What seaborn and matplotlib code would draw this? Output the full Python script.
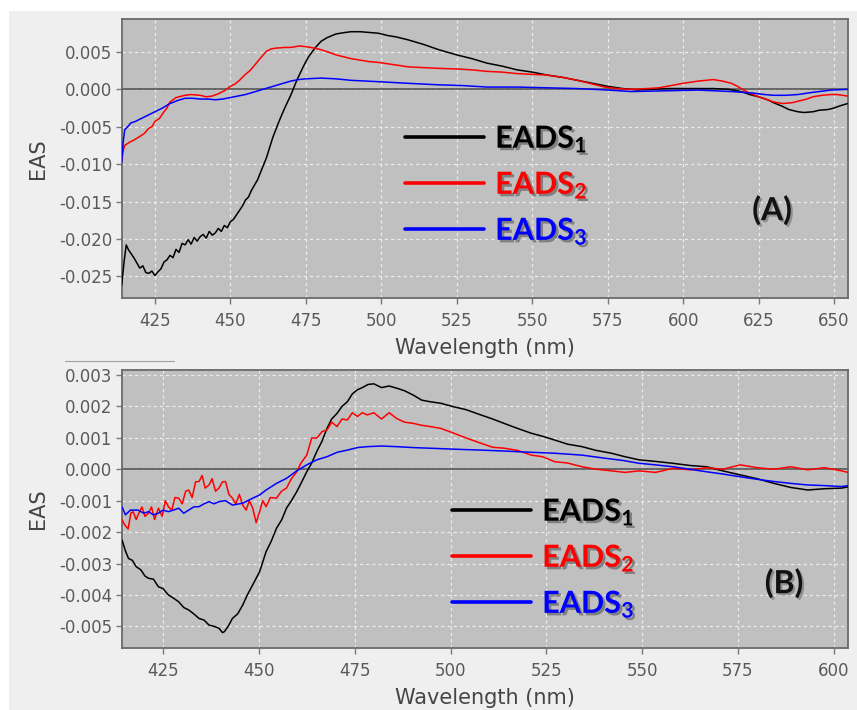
import matplotlib
matplotlib.use("Agg")
import numpy as np
import pandas as pd
import matplotlib.pyplot as plt
import seaborn as sns
from matplotlib.lines import Line2D
from matplotlib.patches import Rectangle
import matplotlib.patheffects as pe
from matplotlib.ticker import FormatStrFormatter, FixedLocator

# ---------------- data ----------------
series_names = ["EADS1", "EADS2", "EADS3"]
series_labels = [r"$EADS_1$", r"$EADS_2$", r"$EADS_3$"]
series_colors = ["#000000", "#ff0000", "#0000ff"]
text_colors = ["#000000", "#ff0000", "#0000ff"]

# Panel A
a1_wl = [414, 414.8, 415.5, 416.3, 417, 418, 419, 420, 421, 422, 423, 424, 425, 426, 427, 428, 429, 430,
         431, 432, 433, 434, 435, 436, 437, 438, 439, 440, 441, 442, 443, 444, 445, 446, 447, 448, 449, 450,
         451, 452, 454, 455, 456, 457, 458, 459, 460, 461, 462, 463, 464, 466, 468, 470, 472, 474, 475, 476,
         478, 480, 482, 485, 488, 490, 493, 496, 499, 502, 505, 509, 514, 519, 525, 530, 535, 540, 545, 550,
         555, 560, 565, 570, 575, 580, 585, 590, 595, 600, 605, 610, 615, 618, 620, 622, 625, 628, 630, 633,
         635, 638, 640, 643, 645, 648, 650, 652, 654.5]
a1_val = [-0.0262, -0.0230, -0.0208, -0.0215, -0.0219, -0.0225, -0.0232, -0.0239, -0.0236, -0.0245, -0.0246,
          -0.0243, -0.0249, -0.0244, -0.0240, -0.0231, -0.0228, -0.0222, -0.0225, -0.0214, -0.0218, -0.0206,
          -0.0208, -0.0201, -0.0207, -0.0198, -0.0203, -0.0197, -0.0194, -0.0199, -0.0190, -0.0195, -0.0192,
          -0.0186, -0.0190, -0.0182, -0.0185, -0.0177, -0.0174, -0.0168, -0.0156, -0.0148, -0.0144, -0.0135,
          -0.0128, -0.0121, -0.0111, -0.0101, -0.0091, -0.0078, -0.0065, -0.0044, -0.0025, -0.0008, 0.0012,
          0.0029, 0.0037, 0.0044, 0.0055, 0.0064, 0.0069, 0.0074, 0.0076, 0.0077, 0.0077, 0.0076, 0.0075,
          0.0072, 0.0070, 0.0066, 0.0060, 0.0053, 0.0046, 0.0041, 0.0035, 0.0031, 0.0026, 0.0023, 0.0019,
          0.0016, 0.0012, 0.0008, 0.0004, 0.0001, -0.0001, 0.0000, 0.0001, 0.0001, 0.0001, 0.0001, 0.0000,
          -0.0002, -0.0004, -0.0007, -0.0010, -0.0014, -0.0018, -0.0023, -0.0027, -0.0030, -0.0031, -0.0030,
          -0.0028, -0.0027, -0.0025, -0.0022, -0.0019]

a2_wl = [414, 414.5, 415, 416.5, 418, 420, 421.5, 423, 424, 425, 426.5, 428, 429, 430, 431, 432, 435, 437,
         440, 442, 444, 446, 448, 450, 451.5, 453, 455, 456.5, 458, 460, 462, 463.5, 465, 468, 470, 473, 475,
         478, 480, 483, 485, 488, 490, 493, 496, 499, 504, 509, 514, 519, 526, 530, 535, 540, 545, 550, 555,
         560, 565, 570, 574, 578, 583, 588, 592, 596, 600, 605, 610, 613, 616, 618, 620, 622, 625, 628, 630,
         633, 636, 638, 641, 643, 646, 649, 651, 654.5]
a2_val = [-0.0095, -0.0082, -0.0075, -0.0071, -0.0068, -0.0063, -0.0059, -0.0052, -0.0050, -0.0043, -0.0039,
          -0.0030, -0.0025, -0.0017, -0.0014, -0.0011, -0.0008, -0.0007, -0.0008, -0.0010, -0.0009, -0.0006,
          -0.0002, 0.0004, 0.0007, 0.0012, 0.0020, 0.0025, 0.0032, 0.0042, 0.0051, 0.0054, 0.0055, 0.0056,
          0.0056, 0.0058, 0.0057, 0.0055, 0.0053, 0.0049, 0.0046, 0.0043, 0.0041, 0.0039, 0.0037, 0.0036,
          0.0033, 0.0030, 0.0029, 0.0028, 0.0027, 0.0026, 0.0024, 0.0023, 0.0021, 0.0020, 0.0019, 0.0016,
          0.0012, 0.0007, 0.0003, 0.0001, 0.0000, 0.0001, 0.0002, 0.0005, 0.0008, 0.0011, 0.0013, 0.0011,
          0.0008, 0.0004, -0.0001, -0.0005, -0.0010, -0.0014, -0.0017, -0.0019, -0.0018, -0.0016, -0.0013,
          -0.0010, -0.0008, -0.0007, -0.0007, -0.0009]

a3_wl = [414, 414.5, 415, 416, 417, 418.5, 420, 422.5, 425, 427.5, 430, 432.5, 435, 437.5, 440, 442.5, 445,
         447.5, 450, 452.5, 455, 457.5, 460, 462.5, 465, 467.5, 470, 472.5, 475, 480, 485, 490, 495, 500, 509,
         519, 527, 535, 545, 555, 565, 575, 583, 594, 605, 616, 623, 627, 630, 634, 638, 643, 649, 654.5]
a3_val = [-0.0098, -0.0070, -0.0054, -0.0050, -0.0045, -0.0043, -0.0040, -0.0035, -0.0030, -0.0025, -0.0019,
          -0.0015, -0.0012, -0.0012, -0.0013, -0.0013, -0.0014, -0.0013, -0.0011, -0.0009, -0.0007, -0.0004,
          -0.0001, 0.0002, 0.0005, 0.0008, 0.0011, 0.0013, 0.0014, 0.0015, 0.0014, 0.0012, 0.0011, 0.0010,
          0.0008, 0.0006, 0.0005, 0.0003, 0.0003, 0.0002, 0.0001, -0.0001, -0.0003, -0.0002, -0.0001, -0.0003,
          -0.0005, -0.0007, -0.0008, -0.0008, -0.0007, -0.0004, -0.0001, 0.0000]

# Panel B
b1_wl = [414.3, 415.2, 416, 417, 418, 419.2, 420.3, 421.2, 422.5, 423.8, 425, 426.4, 427.7, 429.1, 430.4,
         431.7, 433, 434.4, 435.7, 437, 438.3, 439.6, 440.5, 441, 442, 443.1, 444.5, 445.8, 447, 448.4, 450.2,
         451.9, 453.2, 454.6, 456, 457.2, 458.5, 459.9, 461.2, 462.5, 463.8, 465.1, 466.5, 467.8, 469, 470.4,
         471.7, 473.1, 474.4, 475.7, 477, 478.5, 480, 482, 484, 486, 488, 490.3, 492.5, 494.7, 497.5, 500.8,
         504, 507.9, 511, 514, 517.5, 521, 524, 527.2, 530.5, 534.3, 538, 542, 545.5, 549.2, 553.5, 558,
         562.5, 566.8, 571, 575.6, 580, 584.4, 588.8, 593.2, 597.5, 602, 603.7]
b1_val = [-0.00225, -0.0026, -0.00284, -0.0029, -0.0031, -0.0032, -0.0034, -0.00347, -0.0035, -0.00374,
          -0.0038, -0.0040, -0.0041, -0.00422, -0.0044, -0.00448, -0.0046, -0.00475, -0.0048, -0.00496,
          -0.0050, -0.00506, -0.0052, -0.00517, -0.0050, -0.00475, -0.0046, -0.00432, -0.0040, -0.00368,
          -0.00326, -0.00262, -0.0023, -0.00188, -0.0016, -0.00124, -0.0010, -0.00071, -0.0004, -0.00008,
          0.0002, 0.00056, 0.0009, 0.00131, 0.0016, 0.00178, 0.0020, 0.00215, 0.0024, 0.00253, 0.0026, 0.0027,
          0.00272, 0.0026, 0.00265, 0.00258, 0.0025, 0.00236, 0.0022, 0.00215, 0.0021, 0.00199, 0.0019,
          0.00173, 0.0016, 0.00146, 0.0013, 0.00115, 0.00105, 0.00093, 0.0008, 0.00072, 0.0006, 0.00051,
          0.0004, 0.0003, 0.00025, 0.00019, 0.00012, 0.00008, -0.00005, -0.00018, -0.0003, -0.00045, -0.00058,
          -0.00066, -0.00062, -0.0006, -0.00056]

b2_wl = [414.3, 414.9, 415.9, 416.6, 417.2, 418, 418.5, 419.5, 420.3, 421.2, 422, 422.8, 423.8, 424.8, 425.6,
         426.4, 427.3, 428.1, 429.1, 430, 430.9, 431.7, 432.6, 433.5, 434.4, 435.2, 436, 437, 437.8, 438.7,
         439.6, 440.5, 441.3, 442.2, 443.1, 444, 444.9, 445.8, 446.7, 447.5, 448.4, 449.3, 450.2, 451, 451.9,
         453, 454.6, 455.9, 457.2, 458.5, 459.9, 461, 462.5, 463.8, 465.1, 466.5, 467.8, 469, 470.4, 471.7,
         473.1, 474.4, 475.7, 477, 478.3, 480, 482, 484, 485.9, 488, 490.3, 492.5, 494.7, 497.5, 500.8, 504,
         507.9, 511, 514, 517.5, 521.1, 524, 527.2, 530.5, 534.3, 538, 542, 545.5, 549.2, 553.5, 558, 562.5,
         566.8, 571, 575.6, 580, 584.4, 588.8, 593.2, 597.5, 602, 603.7]
b2_val = [-0.0016, -0.00175, -0.0019, -0.0014, -0.00135, -0.0016, -0.00145, -0.0012, -0.0015, -0.0014,
          -0.0012, -0.0016, -0.00124, -0.0015, -0.0010, -0.00119, -0.0013, -0.0009, -0.00092, -0.0011, -0.0007,
          -0.00066, -0.0009, -0.0004, -0.00039, -0.0002, -0.0006, -0.0005, -0.0003, -0.0007, -0.0006, -0.0004,
          -0.00039, -0.0008, -0.00092, -0.0011, -0.0008, -0.00114, -0.0013, -0.0010, -0.00124, -0.0017,
          -0.00135, -0.0010, -0.00119, -0.0009, -0.00092, -0.0007, -0.0006, -0.0003, -0.00008, 0.0002, 0.00045,
          0.0010, 0.00099, 0.0012, 0.00125, 0.0015, 0.00136, 0.0016, 0.00157, 0.0018, 0.00168, 0.0018, 0.00173,
          0.0018, 0.0016, 0.0018, 0.00162, 0.0015, 0.00146, 0.0014, 0.00136, 0.0013, 0.00115, 0.0010, 0.00083,
          0.0007, 0.00067, 0.0006, 0.00045, 0.0004, 0.00024, 0.0002, 0.00008, 0.0000, -0.00005, -0.0001,
          -0.00005, -0.0001, 0.00003, -0.00002, 0.00005, 0.0000, 0.00014, 0.00005, 0.0000, 0.00008, -0.00002,
          0.00005, -0.00005, -0.0001]

b3_wl = [414.3, 415.2, 416.5, 418.5, 420, 421.2, 422.5, 423.8, 425, 426.4, 427.7, 429.1, 430.4, 431.7, 433,
         434.4, 435.7, 437, 438.3, 439.6, 441.3, 443.1, 445.8, 448.4, 450.2, 451.9, 454.6, 457.2, 459.9, 462.5,
         465.1, 467.8, 470.4, 473.1, 475.7, 478.3, 482, 485.9, 490.3, 494.7, 500.8, 507.9, 514, 521.1, 527.2,
         534.3, 540.4, 545, 549.2, 553.5, 558, 562.5, 566.8, 571, 575.6, 580, 584.4, 588.8, 593.2, 597.5, 602,
         603.7]
b3_val = [-0.0012, -0.00145, -0.0013, -0.0013, -0.0014, -0.00135, -0.00145, -0.0014, -0.0013, -0.00135,
          -0.0013, -0.00124, -0.0014, -0.0013, -0.0012, -0.00119, -0.0011, -0.00103, -0.0011, -0.00103, -0.0010,
          -0.00114, -0.00108, -0.00092, -0.00082, -0.00066, -0.00045, -0.00029, -0.00005, 0.00014, 0.0003,
          0.0004, 0.00054, 0.00061, 0.00069, 0.00072, 0.00074, 0.00072, 0.00069, 0.00067, 0.00064, 0.00061,
          0.00058, 0.00054, 0.00051, 0.00045, 0.00035, 0.00028, 0.00019, 0.00014, 0.00008, 0.0000, -0.00008,
          -0.00015, -0.00024, -0.00032, -0.00039, -0.00045, -0.0005, -0.00052, -0.00055, -0.00052]

a_xticks = [425, 450, 475, 500, 525, 550, 575, 600, 625, 650]
a_yticks = [-0.025, -0.020, -0.015, -0.010, -0.005, 0.000, 0.005]
b_xticks = [425, 450, 475, 500, 525, 550, 575, 600]
b_yticks = [-0.005, -0.004, -0.003, -0.002, -0.001, 0.000, 0.001, 0.002, 0.003]
panel_tags = ["(A)", "(B)"]
x_label = "Wavelength (nm)"
y_label = "EAS"


def long_frame(wls, vals):
    frames = []
    for name, w, v in zip(series_names, wls, vals):
        frames.append(pd.DataFrame({"wl": w, "val": v, "series": name}))
    return pd.concat(frames, ignore_index=True)


df_a = long_frame([a1_wl, a2_wl, a3_wl], [a1_val, a2_val, a3_val])
df_b = long_frame([b1_wl, b2_wl, b3_wl], [b1_val, b2_val, b3_val])

# ---------------- style ----------------
sns.set_style("whitegrid")
plt.rcParams.update({
    "font.family": ["DejaVu Sans"],
    "axes.unicode_minus": False,
    "mathtext.fontset": "custom",
    "mathtext.default": "bf",
    "mathtext.bf": "Lato:bold",
    "mathtext.rm": "Lato:bold",
    "mathtext.it": "Lato:bold",
})

W, H = 857, 710
fig = plt.figure(figsize=(W / 100, H / 100), dpi=100)
fig.patch.set_facecolor("white")
fig.add_artist(Rectangle((9 / W, 0), 1 - 9 / W, 1 - 11 / H, transform=fig.transFigure,
                         facecolor="#efefef", edgecolor="none", zorder=-10))
fig.add_artist(Line2D([65 / W, 174 / W], [1 - 361 / H, 1 - 361 / H], transform=fig.transFigure,
                      color="#a0a0a0", lw=0.8))


def px_axes(l, t, r, b):
    return fig.add_axes([l / W, 1 - b / H, (r - l) / W, (b - t) / H])


ax_a = px_axes(122, 19, 848, 298)
ax_b = px_axes(122, 370, 848, 648)

palette = dict(zip(series_names, series_colors))


def style_axes(ax, df, xlim, ylim, xticks, yticks, leg_anchor, tag_pos, tag):
    ax.set_facecolor("#c0c0c0")
    ax.axhline(0, color="#555555", lw=1.2, zorder=1)
    sns.lineplot(data=df, x="wl", y="val", hue="series", palette=palette, estimator=None,
                 sort=False, lw=1.1, legend=False, ax=ax, zorder=3)
    ax.set_xlim(*xlim)
    ax.set_ylim(*ylim)
    ax.xaxis.set_major_locator(FixedLocator(xticks))
    ax.yaxis.set_major_locator(FixedLocator(yticks))
    ax.yaxis.set_major_formatter(FormatStrFormatter("%.3f"))
    ax.grid(True, color="#f2f2f2", lw=0.9, ls=(0, (2.5, 2.5)), alpha=0.9)
    ax.set_axisbelow(True)
    for s in ax.spines.values():
        s.set_color("#6a6a6a")
        s.set_linewidth(1.3)
    ax.tick_params(axis="both", which="major", length=4, width=1, color="#777777",
                   labelsize=12, labelcolor="#5a5a5a", pad=3, direction="out", bottom=True, left=True)
    ax.tick_params(axis="x", pad=6)
    ax.set_xlabel(x_label, fontsize=15, color="#454545", labelpad=6)
    ax.set_ylabel(y_label, fontsize=15, color="#454545", labelpad=8)
    handles = [Line2D([], [], color=c, lw=2.6) for c in series_colors]
    leg = ax.legend(handles, series_labels, loc="upper left", bbox_to_anchor=leg_anchor,
                    frameon=False, fontsize=22, handlelength=2.6, handletextpad=0.35,
                    labelspacing=0.5, borderpad=0, borderaxespad=0)
    for t, c in zip(leg.get_texts(), text_colors):
        t.set_color(c)
        t.set_path_effects([pe.withSimplePatchShadow(offset=(1.8, -1.8), shadow_rgbFace="#333333",
                                                     alpha=0.45)])
    ax.text(tag_pos[0], tag_pos[1], tag, transform=ax.transAxes, ha="center", va="center",
            fontsize=23, fontfamily="Lato", fontweight="bold", color="#111111",
            path_effects=[pe.withSimplePatchShadow(offset=(1.5, -1.5), shadow_rgbFace="#444444",
                                                   alpha=0.4)])


style_axes(ax_a, df_a, (414.1, 654.6), (-0.0279, 0.0094), a_xticks, a_yticks,
           ((405 - 122) / 726, 1 - (124 - 19) / 279), ((772 - 122) / 726, 1 - (210 - 19) / 279),
           panel_tags[0])
style_axes(ax_b, df_b, (414.3, 603.7), (-0.00569, 0.00316), b_xticks, b_yticks,
           ((452 - 122) / 726, 1 - (497 - 370) / 278), ((784 - 122) / 726, 1 - (583 - 370) / 278),
           panel_tags[1])

fig.savefig("out.png", dpi=100, facecolor=fig.get_facecolor())
